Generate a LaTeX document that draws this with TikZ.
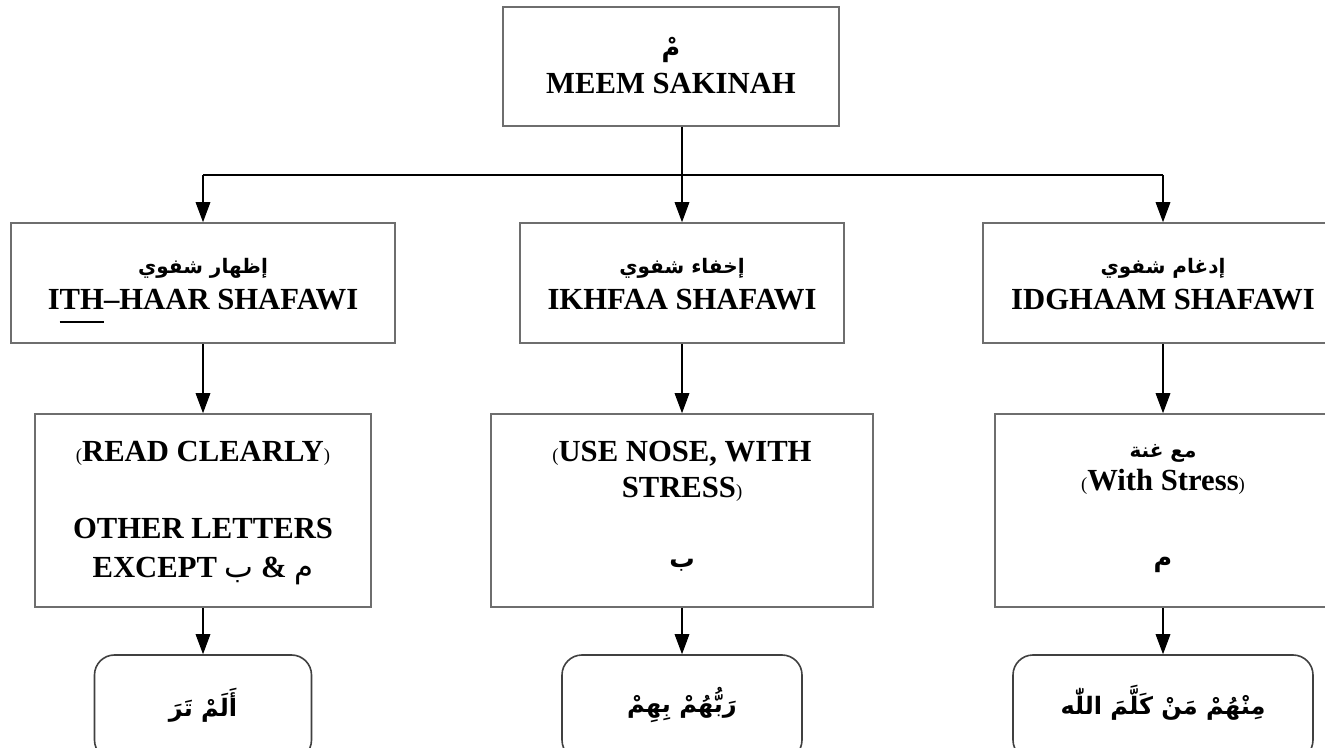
\documentclass[tikz,border=0pt]{standalone}
\usepackage{fontspec}
\setmainfont{Liberation Serif}
\newfontfamily\arabicfont[Script=Arabic]{DejaVu Sans}
\TeXXeTstate=1
\usetikzlibrary{arrows.meta}
\definecolor{boxgray}{RGB}{110,110,110}
\newcommand\smallparen[1]{{\fontsize{14}{14}\selectfont\mdseries #1}}
\newcommand\myuline[1]{\setbox0=\hbox{#1}\rlap{\raisebox{-9.5pt}{\rule{\wd0}{0.9pt}}}\box0}
\begin{document}
\begin{tikzpicture}[x=0.75pt,y=-0.75pt,
  box/.style={draw=boxgray, line width=1.2pt, inner sep=0pt},
  rbox/.style={box, draw=black!75, rounded corners=15pt},
  conn/.style={draw=black, line width=0.8pt},
  arr/.style={conn, -{Triangle[length=15pt,width=11pt]}},
  en/.style={font=\fontsize{23}{27}\selectfont\bfseries, anchor=base, inner sep=0pt},
  ar/.style={font=\arabicfont\bfseries\fontsize{15}{18}\selectfont, inner sep=0pt},
  arletter/.style={font=\arabicfont\bfseries\fontsize{19}{22}\selectfont, inner sep=0pt},
  arbig/.style={font=\arabicfont\bfseries\fontsize{18}{22}\selectfont, inner sep=0pt}]
\useasboundingbox (0,0) rectangle (1325,748);
\fill[white] (0,0) rectangle (1325,748);

% boxes
\node[box, minimum width=252pt, minimum height=89.25pt] (top) at (671,66.5) {};
\node[box, minimum width=288pt, minimum height=90pt] (l2) at (203,283) {};
\node[box, minimum width=243pt, minimum height=90pt] (m2) at (682,283) {};
\node[box, minimum width=270pt, minimum height=90pt] (r2) at (1163,283) {};
\node[box, minimum width=252pt, minimum height=144.75pt] (l3) at (203,510.5) {};
\node[box, minimum width=286.5pt, minimum height=144.75pt] (m3) at (682,510.5) {};
\node[box, minimum width=252pt, minimum height=144.75pt] (r3) at (1163,510.5) {};
\node[rbox, minimum width=162.75pt, minimum height=78.75pt] (l4) at (203,707.5) {};
\node[rbox, minimum width=180pt, minimum height=78.75pt] (m4) at (682,707.5) {};
\node[rbox, minimum width=225pt, minimum height=78.75pt] (r4) at (1163,707.5) {};

% texts
\node[arletter] (t0a) at (671,50) {مْ};
\node[en] (t0b) at (671,94) {MEEM SAKINAH};

\node[ar] (l2a) at (203,268) {\beginR إظهار شفوي\endR};
\node[en] (l2b) at (203,310) {I\myuline{TH}–HAAR SHAFAWI};
\node[ar] (m2a) at (682,268) {\beginR إخفاء شفوي\endR};
\node[en] (m2b) at (682,310) {IKHFAA SHAFAWI};
\node[ar] (r2a) at (1163,268) {\beginR إدغام شفوي\endR};
\node[en] (r2b) at (1163,310) {IDGHAAM SHAFAWI};

\node[en] (l3a) at (203,462) {\smallparen{(}READ CLEARLY\smallparen{)}};
\node[en] (l3b) at (203,538) {OTHER LETTERS};
\node[en] (l3c) at (203,577) {EXCEPT {\arabicfont\mdseries ب} \& {\arabicfont\mdseries م}};

\node[en] (m3a) at (682,462) {\smallparen{(}USE NOSE, WITH};
\node[en] (m3b) at (682,498) {STRESS\smallparen{)}};
\node[arletter] (m3c) at (682,565) {ب};

\node[ar] (r3a) at (1163,453) {\beginR مع غنة\endR};
\node[en] (r3b) at (1163,490) {\smallparen{(}With Stress\smallparen{)}};
\node[arletter] (r3c) at (1163,565) {م};

\node[arbig] (l4a) at (203,705) {\beginR أَلَمْ تَرَ\endR};
\node[arbig] (m4a) at (682,705) {\beginR رَبُّهُمْ بِهِمْ\endR};
\node[arbig] (r4a) at (1163,703) {\beginR مِنْهُمْ مَنْ كَلَّمَ اللّٰه\endR};

% connectors
\coordinate (j) at (682,175);
\draw[conn] (j |- top.south) -- (j);
\draw[conn] (l2 |- j) -- (r2 |- j);
\draw[arr] (l2 |- j) -- (l2.north);
\draw[arr] (j) -- (m2.north);
\draw[arr] (r2 |- j) -- (r2.north);
\draw[arr] (l2.south) -- (l3.north);
\draw[arr] (m2.south) -- (m3.north);
\draw[arr] (r2.south) -- (r3.north);
\draw[arr] (l3.south) -- (l4.north);
\draw[arr] (m3.south) -- (m4.north);
\draw[arr] (r3.south) -- (r4.north);
\end{tikzpicture}
\end{document}
